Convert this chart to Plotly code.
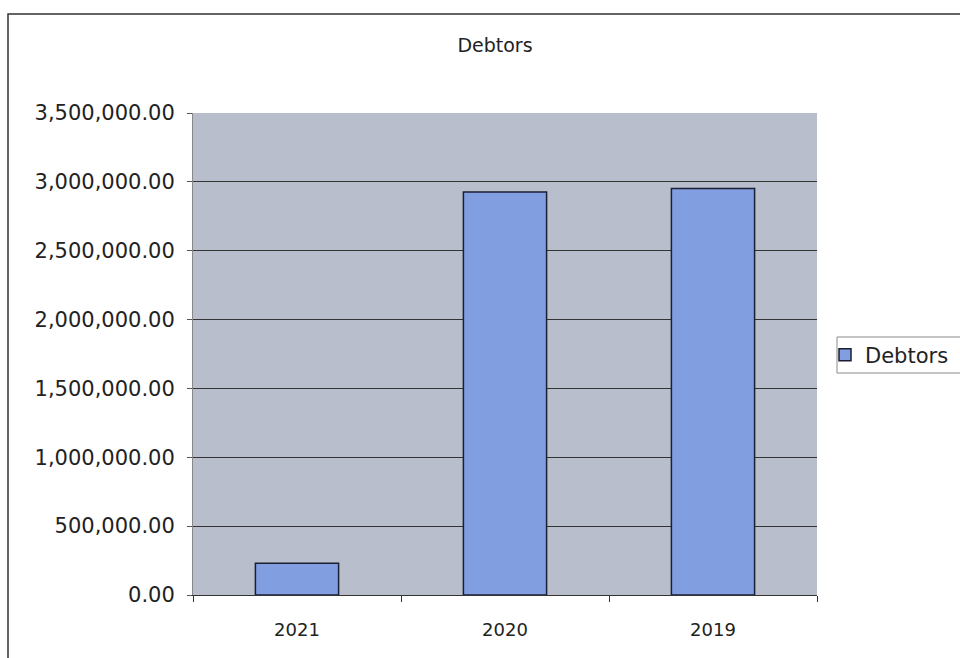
import plotly.graph_objects as go

# Debtors balance by year
years = ["2021", "2020", "2019"]
debtors = [230000, 2927000, 2951000]
y_ticks = [0, 500000, 1000000, 1500000, 2000000, 2500000, 3000000, 3500000]

FONT = "DejaVu Sans"
TEXT = "#222222"

fig = go.Figure()
fig.add_trace(go.Bar(
    x=years,
    y=debtors,
    name="Debtors",
    marker=dict(color="#809ee0", line=dict(color="#1c1f33", width=1.5)),
))

L, R, T, B = 193, 143, 113, 63
W, H = 960, 658
pw, ph = W - L - R, H - T - B


def px_x(x):
    return (x - L) / pw


def px_y(y):
    return (H - B - y) / ph


fig.update_layout(
    width=W,
    height=H,
    margin=dict(l=L, r=R, t=T, b=B, autoexpand=False),
    paper_bgcolor="white",
    plot_bgcolor="#b8becb",
    bargap=0.6,
    font=dict(family=FONT, color=TEXT),
    title=dict(
        text="Debtors",
        x=495 / W,
        xref="container",
        xanchor="center",
        y=1 - 45 / H,
        yref="container",
        yanchor="middle",
        font=dict(family=FONT, size=19, color=TEXT),
    ),
    showlegend=True,
    legend=dict(
        x=px_x(825),
        xanchor="left",
        y=px_y(355),
        yanchor="middle",
        bgcolor="rgba(0,0,0,0)",
        borderwidth=0,
        font=dict(family=FONT, size=21, color=TEXT),
    ),
    xaxis=dict(
        type="category",
        tickson="boundaries",
        ticks="outside",
        ticklen=6,
        tickcolor="#333333",
        showline=True,
        linecolor="#333333",
        linewidth=1,
        showgrid=False,
        tickfont=dict(family=FONT, size=18, color=TEXT),
        ticklabelstandoff=18,
    ),
    yaxis=dict(
        range=[0, 3500000],
        tickvals=y_ticks,
        tickformat=",.2f",
        ticks="outside",
        ticklen=5,
        tickcolor="#555555",
        showline=True,
        linecolor="#888888",
        showgrid=True,
        gridcolor="#333333",
        gridwidth=1,
        zeroline=False,
        tickfont=dict(family=FONT, size=21, color=TEXT),
        ticklabelstandoff=8,
    ),
    shapes=[
        # outer chart border
        dict(
            type="rect",
            xref="paper",
            yref="paper",
            x0=px_x(8),
            x1=px_x(W + 20),
            y0=px_y(H + 20),
            y1=px_y(14),
            line=dict(color="#333333", width=1.5),
            fillcolor="rgba(0,0,0,0)",
            layer="below",
        ),
        # legend frame
        dict(
            type="rect",
            xref="paper",
            yref="paper",
            x0=px_x(837),
            x1=px_x(W + 20),
            y0=px_y(373),
            y1=px_y(337),
            line=dict(color="#8a8a8a", width=1),
            fillcolor="rgba(0,0,0,0)",
            layer="above",
        ),
    ],
)

fig.write_html("out.html")
